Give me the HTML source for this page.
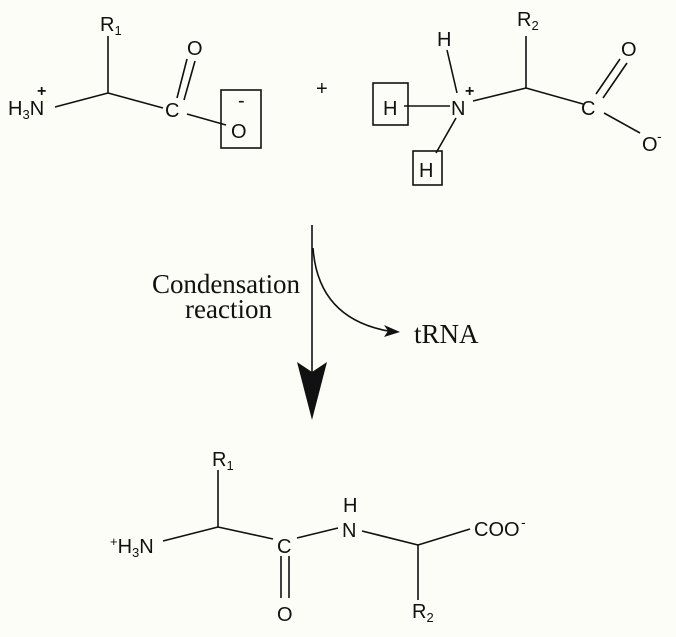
<!DOCTYPE html>
<html><head><meta charset="utf-8"><style>
html,body{margin:0;padding:0;background:#fdfdf8;}
svg{display:block;}
.s{font-family:"Liberation Sans",sans-serif;font-size:20px;fill:#111;}
.sub{font-size:13px;}
.r{font-family:"Liberation Serif",serif;font-size:27px;fill:#111;}
line,path,rect{stroke:#111;stroke-width:1.6;fill:none;}
</style></head><body>
<svg width="676" height="637" viewBox="0 0 676 637">
<!-- top-left molecule -->
<text class="s" x="100" y="31">R<tspan class="sub" dy="4">1</tspan></text>
<text class="s" x="8" y="115">H<tspan class="sub" dy="4">3</tspan><tspan dy="-4">N</tspan></text>
<text class="s" x="37" y="96" style="font-size:16px;font-weight:bold">+</text>
<line x1="55" y1="107" x2="108" y2="93"/>
<line x1="108" y1="93" x2="108" y2="36"/>
<line x1="108" y1="93" x2="163" y2="108"/>
<text class="s" x="165" y="117">C</text>
<line x1="177" y1="98" x2="187" y2="59"/>
<line x1="184" y1="100" x2="195" y2="61"/>
<text class="s" x="187" y="55">O</text>
<line x1="187" y1="114" x2="226" y2="125"/>
<rect x="221" y="90" width="40" height="58"/>
<text class="s" x="231" y="138">O</text>
<text class="s" x="238" y="107">-</text>
<text class="s" x="316" y="95">+</text>
<!-- top-right molecule -->
<text class="s" x="517" y="26">R<tspan class="sub" dy="4">2</tspan></text>
<text class="s" x="437" y="46">H</text>
<line x1="447" y1="50" x2="457" y2="93"/>
<text class="s" x="451" y="115">N</text>
<text class="s" x="465" y="96" style="font-size:16px;font-weight:bold">+</text>
<line x1="473" y1="101" x2="526" y2="88"/>
<line x1="526" y1="88" x2="526" y2="36"/>
<line x1="526" y1="88" x2="583" y2="104"/>
<text class="s" x="581" y="115">C</text>
<line x1="596" y1="94" x2="620" y2="59"/>
<line x1="603" y1="98" x2="627" y2="63"/>
<text class="s" x="621" y="56">O</text>
<line x1="604" y1="113" x2="640" y2="133"/>
<text class="s" x="642" y="151">O</text>
<text class="s" x="657" y="141" style="font-size:14px">-</text>
<rect x="373" y="83" width="35" height="42"/>
<text class="s" x="383" y="115">H</text>
<line x1="404" y1="106" x2="450" y2="106"/>
<line x1="456" y1="118" x2="436" y2="153"/>
<rect x="413" y="151" width="29" height="34"/>
<text class="s" x="419" y="177">H</text>
<!-- reaction arrow -->
<line x1="312" y1="225" x2="312" y2="380"/>
<polygon points="297,362 312,372 327,362 312,420" style="fill:#111;stroke:none"/>
<path d="M313,248 Q318,318 388,331"/>
<polygon points="400,332 384,325 388,331 384,337" style="fill:#111;stroke:none"/>
<text class="r" x="152" y="293" textLength="148">Condensation</text>
<text class="r" x="185" y="318">reaction</text>
<text class="r" x="414" y="343">tRNA</text>
<!-- product -->
<text class="s" x="212" y="466">R<tspan class="sub" dy="4">1</tspan></text>
<text class="s" x="110" y="553"><tspan class="sub" dy="-7">+</tspan><tspan dy="7">H</tspan><tspan class="sub" dy="4">3</tspan><tspan dy="-4">N</tspan></text>
<line x1="163" y1="541" x2="218" y2="527"/>
<line x1="218" y1="527" x2="218" y2="470"/>
<line x1="218" y1="527" x2="273" y2="539"/>
<text class="s" x="277" y="553">C</text>
<line x1="281" y1="556" x2="281" y2="598"/>
<line x1="289" y1="556" x2="289" y2="598"/>
<text class="s" x="277" y="621">O</text>
<line x1="297" y1="538" x2="338" y2="528"/>
<text class="s" x="342" y="537">N</text>
<text class="s" x="343" y="512">H</text>
<line x1="362" y1="531" x2="418" y2="545"/>
<line x1="418" y1="545" x2="470" y2="529"/>
<line x1="418" y1="545" x2="418" y2="600"/>
<text class="s" x="474" y="536">COO</text>
<text class="s" x="521" y="527" style="font-size:14px">-</text>
<text class="s" x="412" y="618">R<tspan class="sub" dy="4">2</tspan></text>
</svg>
</body></html>
